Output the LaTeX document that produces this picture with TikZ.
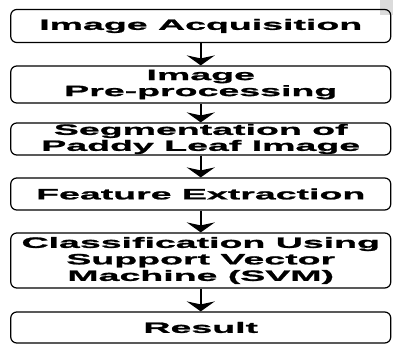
\documentclass[tikz,border=0pt]{standalone}
\usepackage{fontspec}
\newfontfamily\wide[FakeStretch=2.5,FakeBold=1.4]{Liberation Sans Bold}
\usetikzlibrary{arrows.meta}
\begin{document}
\begin{tikzpicture}[x=1bp,y=-1bp,
  stepbox/.style={draw=black,line width=1.2bp,rounded corners=6bp,rectangle,
    minimum width=380bp,inner sep=0pt,align=center,
    font=\wide\fontsize{15bp}{16bp}\selectfont},
  flow/.style={line width=1.6bp,-{Stealth[length=10bp,width=28bp,inset=3bp]}}]
\useasboundingbox (0,0) rectangle (393,345);
\fill[gray!28] (380,0) rectangle (393,15);
\node[stepbox,minimum height=33bp] (b1) at (200.75,26) {Image Acquisition};
\node[stepbox,minimum height=37bp] (b2) at (200.75,84.5) {Image\\Pre-processing};
\node[stepbox,minimum height=32bp] (b3) at (200.75,139) {Segmentation of\\Paddy Leaf Image};
\node[stepbox,minimum height=32bp] (b4) at (200.75,194) {Feature Extraction};
\node[stepbox,minimum height=55bp,font=\wide\fontsize{15bp}{16.5bp}\selectfont] (b5) at (200.75,260.5) {Classification Using\\Support Vector\\Machine (SVM)};
\node[stepbox,minimum height=31bp] (b6) at (200.75,327.5) {Result};
\draw[flow] (b1) -- (b2);
\draw[flow] (b2) -- (b3);
\draw[flow] (b3) -- (b4);
\draw[flow] (b4) -- (b5);
\draw[flow] (b5) -- (b6);
\end{tikzpicture}
\end{document}
